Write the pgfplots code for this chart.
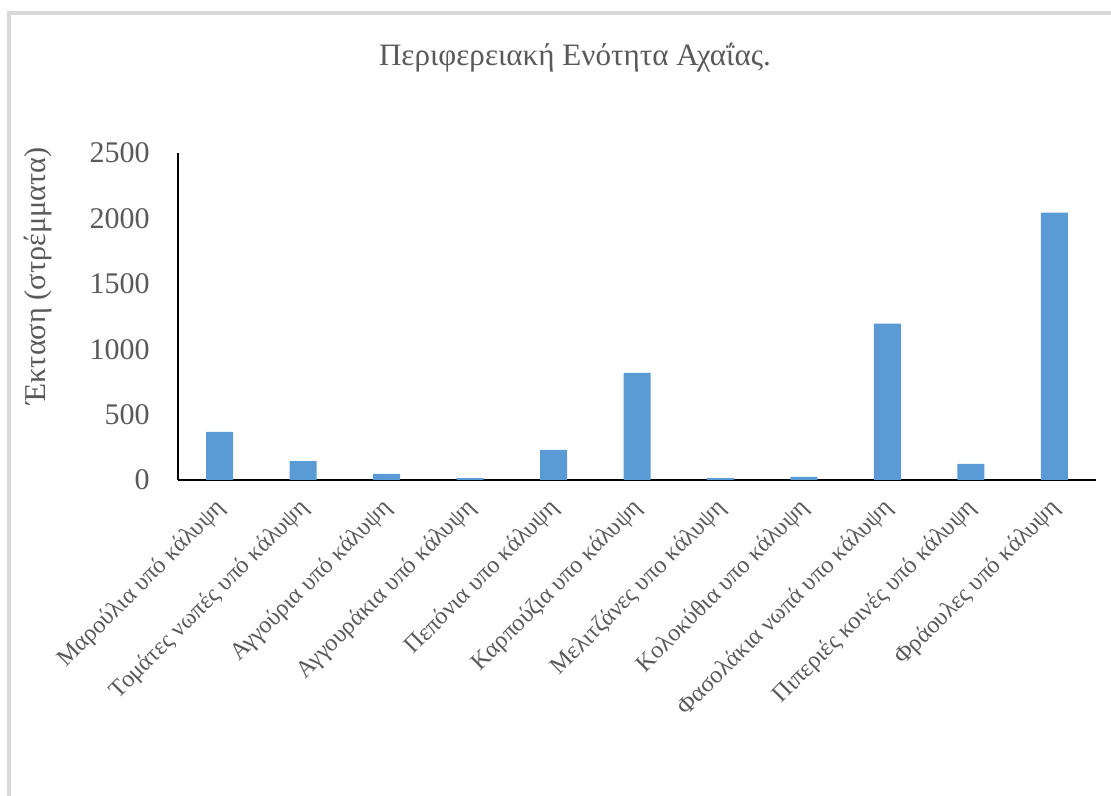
\documentclass[border=0pt]{standalone}
\usepackage{pgfplots}
\pgfplotsset{compat=1.18}
\usepackage{fontspec}
\setmainfont{Liberation Serif}
\definecolor{barblue}{HTML}{5B9BD5}
\definecolor{txtgray}{HTML}{595959}
\definecolor{framegray}{HTML}{D9D9D9}
\begin{document}
\begin{tikzpicture}[x=0.36pt,y=0.36pt]
\useasboundingbox (0,0) rectangle (1111,796);
% chart frame
\draw[framegray, line width=1.1pt] (9,-20) -- (9,783) -- (1130,783);
% title and y label
\node[txtgray, font=\fontsize{11.2}{13}\selectfont] at (575,738) {Περιφερειακή Ενότητα Αχαΐας.};
\node[txtgray, rotate=90, font=\fontsize{10.9}{12}\selectfont] at (38,520) {Έκταση (στρέμματα)};
\begin{axis}[
  at={(64.08pt,113.76pt)}, anchor=south west,
  width=330.48pt, height=117.72pt, scale only axis,
  ymin=0, ymax=2500, ytick={0,500,...,2500},
  xmin=-0.5, xmax=10.5, xtick=data,
  xticklabels={Μαρούλια υπό κάλυψη, Τομάτες νωπές υπό κάλυψη, Αγγούρια υπό κάλυψη, Αγγουράκια υπό κάλυψη, Πεπόνια υπο κάλυψη, Καρπούζια υπο κάλυψη, Μελιτζάνες υπο κάλυψη, Κολοκύθια υπο κάλυψη, Φασολάκια νωπά υπο κάλυψη, Πιπεριές κοινές υπό κάλυψη, Φράουλες υπό κάλυψη},
  axis x line=bottom, axis y line=left,
  axis line style={-, line width=0.75pt, black},
  major tick length=0pt,
  ybar, bar width=9.72pt,
  scaled y ticks=false,
  /pgf/number format/1000 sep={},
  /pgf/number format/assume math mode=true,
  yticklabel style={font=\fontsize{10.8}{12}\selectfont, text=txtgray, inner sep=0pt, anchor=east, xshift=-10pt},
  xticklabel style={xshift=-2.2pt, yshift=-5.8pt, rotate=45, anchor=north east, inner sep=0pt, font=\fontsize{8.7}{10}\selectfont, text=txtgray},
]
\addplot[fill=barblue, draw=none] coordinates {
  (0,367) (1,145) (2,46) (3,15) (4,230) (5,819) (6,15) (7,23) (8,1195) (9,123) (10,2044)
};
\end{axis}
\end{tikzpicture}
\end{document}
